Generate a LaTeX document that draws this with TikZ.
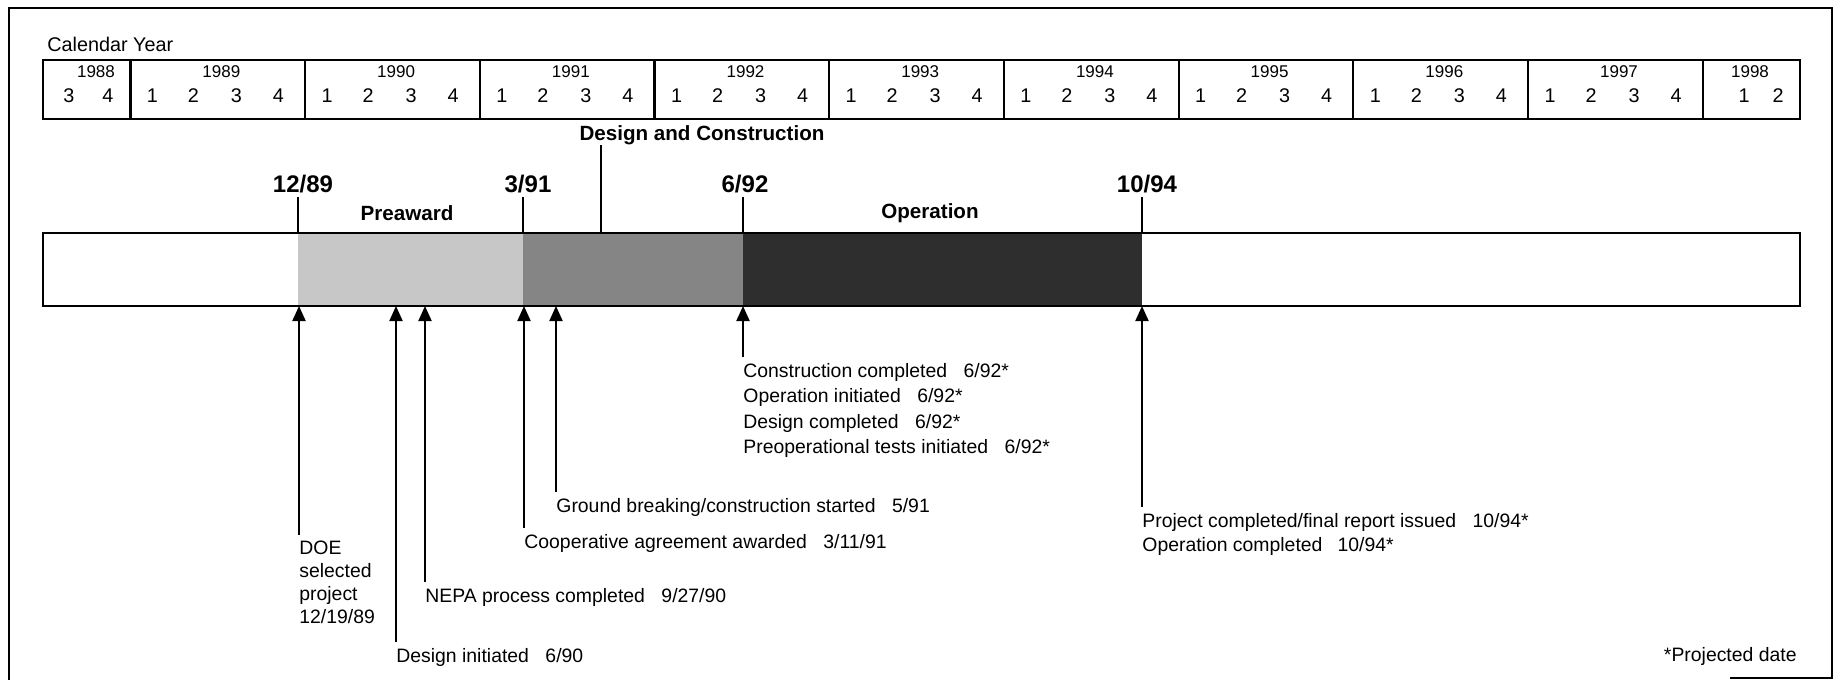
\documentclass[tikz,border=0pt]{standalone}
\usepackage{fontspec}
\setmainfont{Liberation Sans}
\usetikzlibrary{arrows.meta}
\definecolor{shLight}{gray}{0.78}
\definecolor{shMid}{gray}{0.52}
\definecolor{shDark}{gray}{0.18}
\newcommand{\dgap}{\hspace{0.85em}}

\begin{document}
\begin{tikzpicture}[x=0.5pt, y=-0.5pt,
    txt/.style={font=\fontsize{9.7}{12}\selectfont, inner xsep=0pt, inner ysep=3pt,
                align=left, anchor=north west},
    datelbl/.style={font=\fontsize{12}{14}\selectfont\bfseries, inner xsep=0pt,
                    inner ysep=2pt, anchor=south},
    phaselbl/.style={font=\fontsize{10.3}{12}\selectfont\bfseries, inner sep=0pt},
    yearlbl/.style={font=\fontsize{8.5}{10}\selectfont, inner sep=0pt},
    qlbl/.style={font=\fontsize{9.9}{11}\selectfont, inner sep=0pt},
    calbox/.style={line width=1.1pt},
    tickline/.style={line width=0.8pt},
    arr/.style={-{Triangle[length=7.5pt, width=6.5pt]}, line width=1pt},
  ]
  \useasboundingbox (0,0) rectangle (1836,680);
  \draw[line width=1pt] (1730,678) -- (1832,678) -- (1832,8) -- (9,8) -- (9,680);

  % calendar strip
  \node[qlbl, anchor=west] (cal) at (47,44) {Calendar Year};
  \draw[calbox] (43,60) rectangle (1800,119);
  \foreach \i in {0,...,9}
    \draw[calbox] ({130.4+174.7*\i},60) -- ({130.4+174.7*\i},119);
  \node[yearlbl] (y1988)   at (96,72)  {1988};
  \node[qlbl]    (q1988-3) at (69,96)  {3};
  \node[qlbl]    (q1988-4) at (108,96) {4};
  \foreach \yr [count=\i from 0] in {1989,...,1997} {
    \node[yearlbl] (y\yr) at ({130.4+174.7*\i+91},72) {\yr};
    \foreach \q/\dx in {1/22,2/63,3/106,4/148}
      \node[qlbl] (q\yr-\q) at ({130.4+174.7*\i+\dx},96) {\q};
  }
  \node[yearlbl] (y1998)   at (1750,72) {1998};
  \node[qlbl]    (q1998-1) at (1744,96) {1};
  \node[qlbl]    (q1998-2) at (1778,96) {2};

  % phase bar
  \fill[shLight] (298,233) rectangle (523,306);
  \fill[shMid]   (523,233) rectangle (743,306);
  \fill[shDark]  (743,233) rectangle (1142,306);
  \draw[line width=1.3pt] (43,233) rectangle (1800,306);

  \coordinate (top1289) at (298,233);
  \coordinate (top391)  at (523,233);
  \coordinate (topdc)   at (601,233);
  \coordinate (top692)  at (743,233);
  \coordinate (top1094) at (1142,233);

  \node[datelbl] (d1289) at (303,197)  {12/89};
  \node[datelbl] (d391)  at (528,197)  {3/91};
  \node[datelbl] (d692)  at (745,197)  {6/92};
  \node[datelbl] (d1094) at (1147,197) {10/94};
  \draw[tickline] (d1289.south -| top1289) -- (top1289);
  \draw[tickline] (d391.south -| top391)   -- (top391);
  \draw[tickline] (d692.south -| top692)   -- (top692);
  \draw[tickline] (d1094.south -| top1094) -- (top1094);

  \node[phaselbl] (dc)   at (702,135) {Design and Construction};
  \node[phaselbl] (pre)  at (407,213) {Preaward};
  \node[phaselbl] (oper) at (930,213) {Operation};
  \draw[tickline] (dc.south -| topdc) -- (topdc);

  % milestones below the bar
  \coordinate (b1) at (299,306);
  \coordinate (b2) at (396,306);
  \coordinate (b3) at (425,306);
  \coordinate (b4) at (524,306);
  \coordinate (b5) at (556,306);
  \coordinate (b6) at (743,306);
  \coordinate (b7) at (1142,306);

  \node[txt, font=\fontsize{9.7}{11.5}\selectfont] (doe) at (299,535) {DOE\\selected\\project\\12/19/89};
  \node[txt] (desinit) at (396,642) {Design initiated\dgap 6/90};
  \node[txt] (nepa)    at (425,582) {NEPA process completed\dgap 9/27/90};
  \node[txt] (coop)    at (524,528) {Cooperative agreement awarded\dgap 3/11/91};
  \node[txt] (ground)  at (556,492) {Ground breaking/construction started\dgap 5/91};
  \node[txt, font=\fontsize{9.7}{12.7}\selectfont] (constr) at (743,357)
    {Construction completed\dgap 6/92*\\
     Operation initiated\dgap 6/92*\\
     Design completed\dgap 6/92*\\
     Preoperational tests initiated\dgap 6/92*};
  \node[txt] (projend) at (1142,507) {Project completed/final report issued\dgap 10/94*\\
                                      Operation completed\hspace{0.5em} 10/94*};
  \draw[arr] (doe.north west)     -- (b1);
  \draw[arr] (desinit.north west) -- (b2);
  \draw[arr] (nepa.north west)    -- (b3);
  \draw[arr] (coop.north west)    -- (b4);
  \draw[arr] (ground.north west)  -- (b5);
  \draw[arr] (constr.north west)  -- (b6);
  \draw[arr] (projend.north west) -- (b7);

  \node[txt, anchor=east, inner ysep=0pt] (projnote) at (1797,656) {*Projected date};
\end{tikzpicture}
\end{document}
